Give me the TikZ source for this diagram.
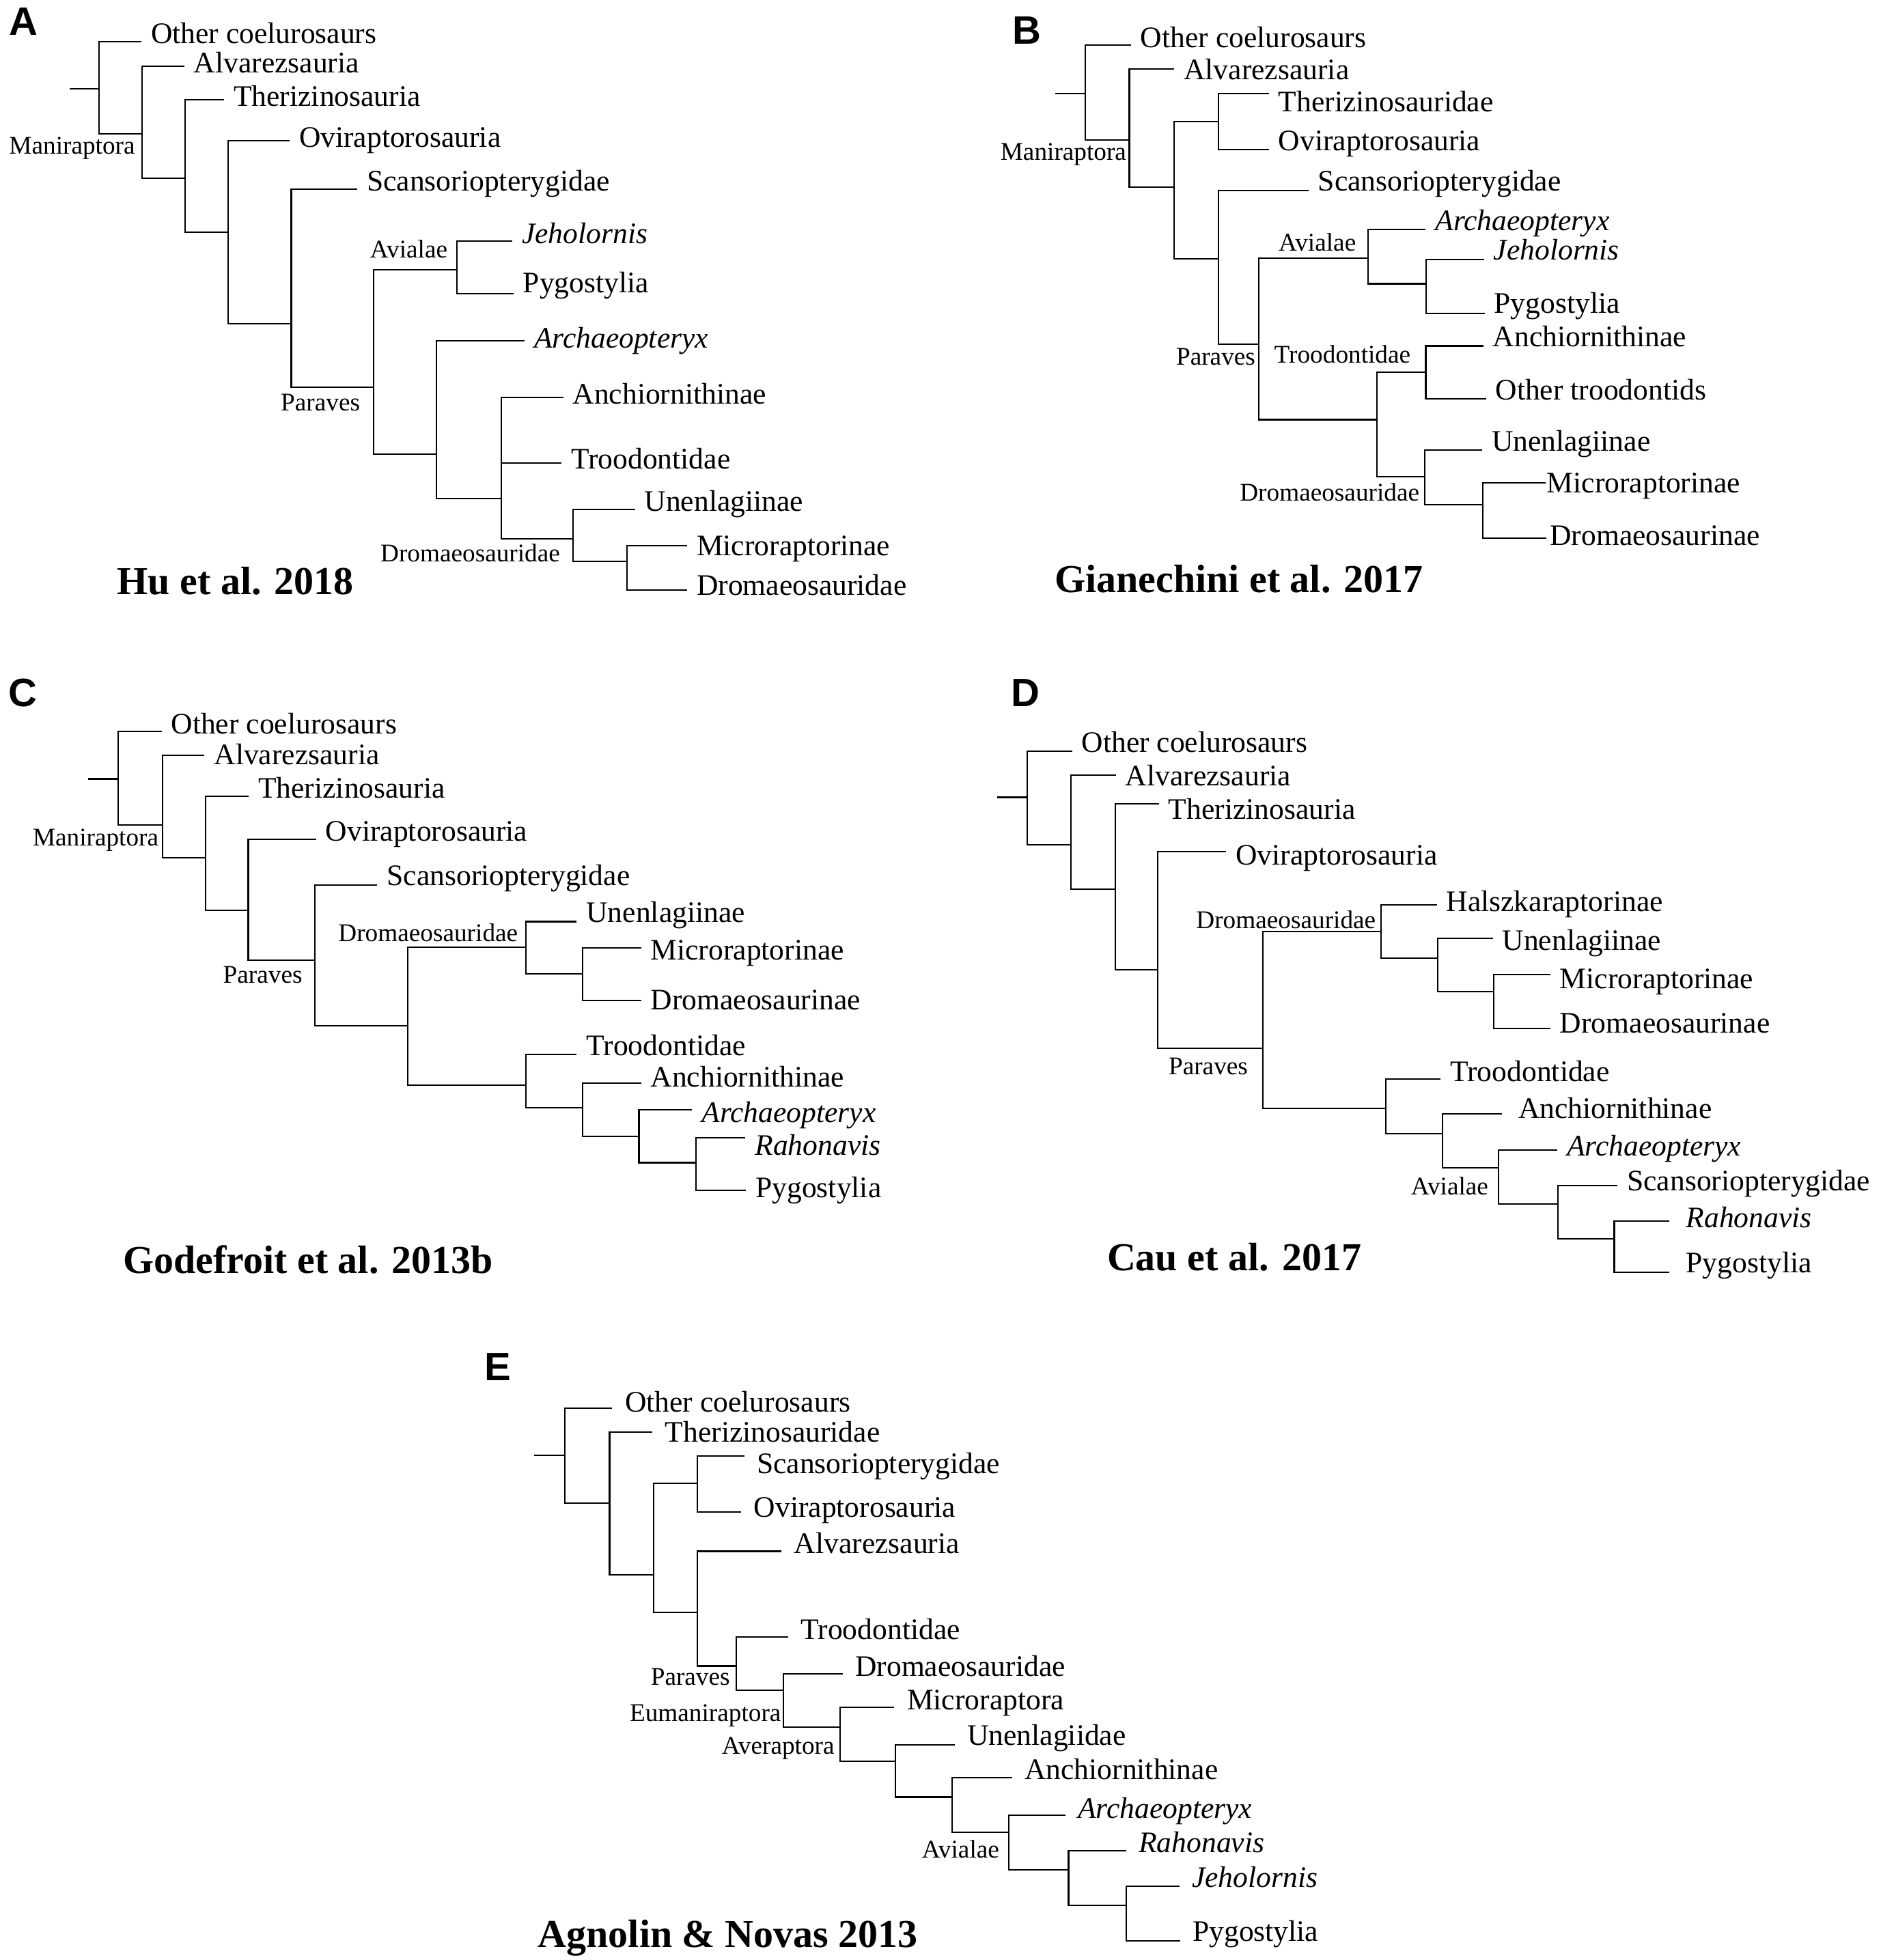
\documentclass[tikz,border=0pt]{standalone}
\usepackage{fontspec}
\setmainfont{Liberation Serif}
\newfontfamily\panelfont{Liberation Sans}
\newcommand{\taxsize}{\fontsize{12.4pt}{14pt}\selectfont}
\newcommand{\cladesize}{\fontsize{10.6pt}{12pt}\selectfont}
\newcommand{\refsize}{\fontsize{16.5pt}{19pt}\selectfont\bfseries}
\newcommand{\splitnode}[4]{%
  \coordinate (#1t) at (#2,#3);
  \coordinate (#1b) at (#2,#4);
  \draw (#1t) -- (#1b);}

\begin{document}
\begin{tikzpicture}[x=0.01836cm, y=-0.01836cm, line width=0.6pt, line cap=rect,
  taxon/.style={anchor=west, inner sep=0pt, text height=8.2pt, text depth=0pt, font=\taxsize},
  clade/.style={inner sep=0pt, text height=7pt, text depth=0pt, font=\cladesize},
  study/.style={inner sep=0pt, text height=10.9pt, text depth=0pt, font=\refsize},
  panel/.style={inner sep=0pt, text height=11.8pt, text depth=0pt, font=\panelfont\bfseries\fontsize{16.5pt}{19pt}\selectfont},
  twig/.style={shorten >=4pt}]
  \useasboundingbox (0,0) rectangle (1500,1563.2);

  % A
  \node[panel] (aP) at (18.5,17) {A};
  \coordinate (a0) at (56.2,70.7);
  \splitnode{a1}{79.2}{33}{106.8}
  \splitnode{a2}{113.4}{52.8}{142}
  \splitnode{a3}{147.7}{79.5}{185.4}
  \splitnode{a4}{181.9}{112.2}{258.3}
  \splitnode{a5}{232.3}{150.8}{308.9}
  \splitnode{a6}{297.8}{215.3}{362}
  \splitnode{a7}{364.3}{192.3}{234.1}
  \splitnode{a8}{348.2}{271.8}{397.5}
  \splitnode{a9}{400}{316.8}{429.9}
  \coordinate (a9m) at (400,369.3);
  \splitnode{a10}{457.2}{406.3}{447.8}
  \splitnode{a11}{499.8}{435.3}{470.8}
  \node[taxon] (aOC) at (119.8,26.7) {Other coelurosaurs};
  \node[taxon] (aAlv) at (154,50.3) {Alvarezsauria};
  \node[taxon] (aThe) at (185.8,77) {Therizinosauria};
  \node[taxon] (aOvi) at (238,109.4) {Oviraptorosauria};
  \node[taxon] (aSca) at (292,144.6) {Scansoriopterygidae};
  \node[taxon] (aJeh) at (415.6,186.4) {\itshape Jeholornis};
  \node[taxon] (aPyg) at (416.6,225.6) {Pygostylia};
  \node[taxon] (aArc) at (425.4,269.6) {\itshape Archaeopteryx};
  \node[taxon] (aAnc) at (456.2,314.3) {Anchiornithinae};
  \node[taxon] (aTro) at (454.8,366.1) {Troodontidae};
  \node[taxon] (aUne) at (513.4,399.7) {Unenlagiinae};
  \node[taxon] (aMic) at (555,435.3) {Microraptorinae};
  \node[taxon] (aDro) at (555,466.7) {Dromaeosauridae};
  \node[clade] (aMan) at (57.5,116.3) {Maniraptora};
  \node[clade] (aAvi) at (326,199) {Avialae};
  \node[clade] (aPar) at (255.5,321) {Paraves};
  \node[clade] (aDrc) at (375,441.5) {Dromaeosauridae};
  \node[study] (aRef) at (187.8,463.5) {Hu et al. 2018};
  \draw (a0) -- (a1t |- a0);
  \draw[twig] (a1t) -- (aOC.west |- a1t);
  \draw (a1b) -- (a2t |- a1b);
  \draw[twig] (a2t) -- (aAlv.west |- a2t);
  \draw (a2b) -- (a3t |- a2b);
  \draw[twig] (a3t) -- (aThe.west |- a3t);
  \draw (a3b) -- (a4t |- a3b);
  \draw[twig] (a4t) -- (aOvi.west |- a4t);
  \draw (a4b) -- (a5t |- a4b);
  \draw[twig] (a5t) -- (aSca.west |- a5t);
  \draw (a5b) -- (a6t |- a5b);
  \draw (a6t) -- (a7t |- a6t);
  \draw[twig] (a7t) -- (aJeh.west |- a7t);
  \draw[twig] (a7b) -- (aPyg.west |- a7b);
  \draw (a6b) -- (a8t |- a6b);
  \draw[twig] (a8t) -- (aArc.west |- a8t);
  \draw (a8b) -- (a9t |- a8b);
  \draw[twig] (a9t) -- (aAnc.west |- a9t);
  \draw[twig] (a9m) -- (aTro.west |- a9m);
  \draw (a9b) -- (a10t |- a9b);
  \draw[twig] (a10t) -- (aUne.west |- a10t);
  \draw (a10b) -- (a11t |- a10b);
  \draw[twig] (a11t) -- (aMic.west |- a11t);
  \draw[twig] (a11b) -- (aDro.west |- a11b);

  % B
  \node[panel] (bP) at (819,24) {B};
  \coordinate (b0) at (841.9,74.5);
  \splitnode{b1}{865.6}{36.1}{111.6}
  \splitnode{b2}{900.6}{55}{149.3}
  \splitnode{b3}{936.5}{96.8}{206.5}
  \splitnode{b4}{971.5}{74.5}{119.4}
  \splitnode{b5}{971.5}{151.8}{274.4}
  \splitnode{b6}{1003.6}{205.8}{334.7}
  \splitnode{b7}{1091.1}{182.9}{226.3}
  \splitnode{b8}{1137.4}{206.8}{249.8}
  \splitnode{b9}{1098.2}{297}{380.3}
  \splitnode{b10}{1137}{275.9}{318}
  \splitnode{b11}{1136}{358.9}{402.3}
  \splitnode{b12}{1182.4}{385}{429}
  \node[taxon] (bOC) at (909,29.9) {Other coelurosaurs};
  \node[taxon] (bAlv) at (943.5,55.6) {Alvarezsauria};
  \node[taxon] (bThe) at (1019,81.1) {Therizinosauridae};
  \node[taxon] (bOvi) at (1019,112.2) {Oviraptorosauria};
  \node[taxon] (bSca) at (1050.5,144.6) {Scansoriopterygidae};
  \node[taxon] (bArc) at (1144,176) {\itshape Archaeopteryx};
  \node[taxon] (bJeh) at (1190.5,199.6) {\itshape Jeholornis};
  \node[taxon] (bPyg) at (1191,242) {Pygostylia};
  \node[taxon] (bAnc) at (1190,268.7) {Anchiornithinae};
  \node[taxon] (bOtr) at (1192,311) {Other troodontids};
  \node[taxon] (bUne) at (1189,352) {Unenlagiinae};
  \node[taxon] (bMic) at (1233,385) {Microraptorinae};
  \node[taxon] (bDro) at (1235.5,426.8) {Dromaeosaurinae};
  \node[clade] (bMan) at (848,121) {Maniraptora};
  \node[clade] (bAvi) at (1050.5,193.3) {Avialae};
  \node[clade] (bPar) at (969.5,284.4) {Paraves};
  \node[clade] (bTrc) at (1070.5,282.8) {Troodontidae};
  \node[clade] (bDrc) at (1060.3,392.8) {Dromaeosauridae};
  \node[study] (bRef) at (988,462) {Gianechini et al. 2017};
  \draw (b0) -- (b1t |- b0);
  \draw[twig] (b1t) -- (bOC.west |- b1t);
  \draw (b1b) -- (b2t |- b1b);
  \draw[twig] (b2t) -- (bAlv.west |- b2t);
  \draw (b2b) -- (b3t |- b2b);
  \draw (b3t) -- (b4t |- b3t);
  \draw[twig] (b4t) -- (bThe.west |- b4t);
  \draw[twig] (b4b) -- (bOvi.west |- b4b);
  \draw (b3b) -- (b5t |- b3b);
  \draw[twig] (b5t) -- (bSca.west |- b5t);
  \draw (b5b) -- (b6t |- b5b);
  \draw (b6t) -- (b7t |- b6t);
  \draw[twig] (b7t) -- (bArc.west |- b7t);
  \draw (b7b) -- (b8t |- b7b);
  \draw[twig] (b8t) -- (bJeh.west |- b8t);
  \draw[twig] (b8b) -- (bPyg.west |- b8b);
  \draw (b6b) -- (b9t |- b6b);
  \draw (b9t) -- (b10t |- b9t);
  \draw[twig] (b10t) -- (bAnc.west |- b10t);
  \draw[twig] (b10b) -- (bOtr.west |- b10b);
  \draw (b9b) -- (b11t |- b9b);
  \draw[twig] (b11t) -- (bUne.west |- b11t);
  \draw (b11b) -- (b12t |- b11b);
  \draw[twig, shorten >=0.5pt] (b12t) -- (bMic.west |- b12t);
  \draw[twig, shorten >=1.5pt] (b12b) -- (bDro.west |- b12b);

  % C
  \node[panel] (cP) at (18.3,552) {C};
  \coordinate (c0) at (70.9,621.2);
  \splitnode{c1}{94.4}{583.5}{658}
  \splitnode{c2}{129.6}{602.3}{684}
  \splitnode{c3}{163.8}{635}{726.1}
  \splitnode{c4}{198}{669.6}{765.7}
  \splitnode{c5}{250.9}{705.7}{818.2}
  \splitnode{c6}{325.2}{755.4}{865.4}
  \splitnode{c7}{419.6}{735}{776.7}
  \splitnode{c8}{464.5}{756}{797.8}
  \splitnode{c9}{419.6}{841.2}{883.3}
  \splitnode{c10}{464.5}{863.8}{906.2}
  \splitnode{c11}{509.5}{885.2}{927.3}
  \splitnode{c12}{555}{907.2}{949.3}
  \node[taxon] (cOC) at (135.9,577.5) {Other coelurosaurs};
  \node[taxon] (cAlv) at (170.2,601.8) {Alvarezsauria};
  \node[taxon] (cThe) at (205.4,628.5) {Therizinosauria};
  \node[taxon] (cOvi) at (259.2,663) {Oviraptorosauria};
  \node[taxon] (cSca) at (308,698.3) {Scansoriopterygidae};
  \node[taxon] (cUne) at (467,727.5) {Unenlagiinae};
  \node[taxon] (cMic) at (518.3,757.8) {Microraptorinae};
  \node[taxon] (cDrn) at (518.3,797.2) {Dromaeosaurinae};
  \node[taxon] (cTro) at (467,834) {Troodontidae};
  \node[taxon] (cAnc) at (518.3,859.1) {Anchiornithinae};
  \node[taxon] (cArc) at (559,887.4) {\itshape Archaeopteryx};
  \node[taxon] (cRah) at (601.5,913.6) {\itshape Rahonavis};
  \node[taxon] (cPyg) at (602,947) {Pygostylia};
  \node[clade] (cMan) at (76.3,667.6) {Maniraptora};
  \node[clade] (cDrc) at (341.4,744.2) {Dromaeosauridae};
  \node[clade] (cPar) at (209.5,777.6) {Paraves};
  \node[study] (cRef) at (245.8,1005) {Godefroit et al. 2013b};
  \draw (c0) -- (c1t |- c0);
  \draw[twig] (c1t) -- (cOC.west |- c1t);
  \draw (c1b) -- (c2t |- c1b);
  \draw[twig] (c2t) -- (cAlv.west |- c2t);
  \draw (c2b) -- (c3t |- c2b);
  \draw[twig] (c3t) -- (cThe.west |- c3t);
  \draw (c3b) -- (c4t |- c3b);
  \draw[twig] (c4t) -- (cOvi.west |- c4t);
  \draw (c4b) -- (c5t |- c4b);
  \draw[twig] (c5t) -- (cSca.west |- c5t);
  \draw (c5b) -- (c6t |- c5b);
  \draw (c6t) -- (c7t |- c6t);
  \draw[twig] (c7t) -- (cUne.west |- c7t);
  \draw (c7b) -- (c8t |- c7b);
  \draw[twig] (c8t) -- (cMic.west |- c8t);
  \draw[twig] (c8b) -- (cDrn.west |- c8b);
  \draw (c6b) -- (c9t |- c6b);
  \draw[twig] (c9t) -- (cTro.west |- c9t);
  \draw (c9b) -- (c10t |- c9b);
  \draw[twig] (c10t) -- (cAnc.west |- c10t);
  \draw (c10b) -- (c11t |- c10b);
  \draw[twig] (c11t) -- (cArc.west |- c11t);
  \draw (c11b) -- (c12t |- c11b);
  \draw[twig] (c12t) -- (cRah.west |- c12t);
  \draw[twig] (c12b) -- (cPyg.west |- c12b);

  % D
  \node[panel] (dP) at (818,552) {D};
  \coordinate (d0) at (795.6,635.9);
  \splitnode{d1}{819.2}{599.2}{673.6}
  \splitnode{d2}{853.8}{618}{709.2}
  \splitnode{d3}{889.2}{641.3}{773.6}
  \splitnode{d4}{923.3}{679.3}{836.1}
  \splitnode{d5}{1007}{742.8}{884.2}
  \splitnode{d6}{1101.5}{721.7}{764.2}
  \splitnode{d7}{1146.4}{748.4}{790.9}
  \splitnode{d8}{1191.3}{777.4}{820.4}
  \splitnode{d9}{1105.3}{860.6}{904}
  \splitnode{d10}{1150.2}{888.3}{931.3}
  \splitnode{d11}{1195.1}{917.2}{960.3}
  \splitnode{d12}{1242.4}{945.5}{987.9}
  \splitnode{d13}{1287.3}{973.8}{1014.6}
  \node[taxon] (dOC) at (862,592.3) {Other coelurosaurs};
  \node[taxon] (dAlv) at (897,618.8) {Alvarezsauria};
  \node[taxon] (dThe) at (931.3,645.6) {Therizinosauria};
  \node[taxon] (dOvi) at (984.8,681.7) {Oviraptorosauria};
  \node[taxon] (dHal) at (1152.8,718.8) {Halszkaraptorinae};
  \node[taxon] (dUne) at (1197.5,750) {Unenlagiinae};
  \node[taxon] (dMic) at (1243.4,780.7) {Microraptorinae};
  \node[taxon] (dDrn) at (1243.4,816) {Dromaeosaurinae};
  \node[taxon] (dTro) at (1155.9,854.6) {Troodontidae};
  \node[taxon] (dAnc) at (1210.3,884.2) {Anchiornithinae};
  \node[taxon] (dArc) at (1249,914) {\itshape Archaeopteryx};
  \node[taxon] (dSca) at (1297,941.8) {Scansoriopterygidae};
  \node[taxon] (dRah) at (1344,971.3) {\itshape Rahonavis};
  \node[taxon] (dPyg) at (1344,1006.9) {Pygostylia};
  \node[clade] (dDrc) at (1025.5,733.6) {Dromaeosauridae};
  \node[clade] (dPar) at (963.5,850.3) {Paraves};
  \node[clade] (dAvi) at (1156,946.2) {Avialae};
  \node[study] (dRef) at (984.3,1003) {Cau et al. 2017};
  \draw (d0) -- (d1t |- d0);
  \draw[twig] (d1t) -- (dOC.west |- d1t);
  \draw (d1b) -- (d2t |- d1b);
  \draw[twig] (d2t) -- (dAlv.west |- d2t);
  \draw (d2b) -- (d3t |- d2b);
  \draw[twig] (d3t) -- (dThe.west |- d3t);
  \draw (d3b) -- (d4t |- d3b);
  \draw[twig] (d4t) -- (dOvi.west |- d4t);
  \draw (d4b) -- (d5t |- d4b);
  \draw (d5t) -- (d6t |- d5t);
  \draw[twig] (d6t) -- (dHal.west |- d6t);
  \draw (d6b) -- (d7t |- d6b);
  \draw[twig] (d7t) -- (dUne.west |- d7t);
  \draw (d7b) -- (d8t |- d7b);
  \draw[twig] (d8t) -- (dMic.west |- d8t);
  \draw[twig] (d8b) -- (dDrn.west |- d8b);
  \draw (d5b) -- (d9t |- d5b);
  \draw[twig] (d9t) -- (dTro.west |- d9t);
  \draw (d9b) -- (d10t |- d9b);
  \draw[twig, shorten >=7pt] (d10t) -- (dAnc.west |- d10t);
  \draw (d10b) -- (d11t |- d10b);
  \draw[twig] (d11t) -- (dArc.west |- d11t);
  \draw (d11b) -- (d12t |- d11b);
  \draw[twig] (d12t) -- (dSca.west |- d12t);
  \draw (d12b) -- (d13t |- d12b);
  \draw[twig, shorten >=7pt] (d13t) -- (dRah.west |- d13t);
  \draw[twig, shorten >=7pt] (d13b) -- (dPyg.west |- d13b);

  % E
  \begin{scope}[twig/.style={shorten >=5.3pt}]
  \node[panel] (eP) at (397,1090) {E};
  \coordinate (e0) at (426.7,1160.7);
  \splitnode{e1}{450.4}{1123.1}{1198.6}
  \splitnode{e2}{486.1}{1142.4}{1255.8}
  \splitnode{e3}{521}{1183.2}{1286}
  \splitnode{e4}{555.9}{1161}{1206}
  \splitnode{e5}{555.9}{1237.2}{1328.7}
  \splitnode{e6}{587.3}{1305.6}{1348}
  \splitnode{e7}{624.7}{1335.1}{1377.6}
  \splitnode{e8}{669.7}{1361.5}{1404.9}
  \splitnode{e9}{714.1}{1391.4}{1433.3}
  \splitnode{e10}{759.1}{1417.8}{1461.3}
  \splitnode{e11}{804.5}{1447.7}{1491.1}
  \splitnode{e12}{852.1}{1476}{1519.8}
  \splitnode{e13}{898.3}{1504.5}{1548}
  \node[taxon] (eOC) at (497.8,1118.5) {Other coelurosaurs};
  \node[taxon] (eThe) at (529.8,1142) {Therizinosauridae};
  \node[taxon] (eSca) at (603,1167.5) {Scansoriopterygidae};
  \node[taxon] (eOvi) at (600.6,1202) {Oviraptorosauria};
  \node[taxon] (eAlv) at (632.8,1231) {Alvarezsauria};
  \node[taxon] (eTro) at (638,1299.5) {Troodontidae};
  \node[taxon] (eDro) at (681.5,1329) {Dromaeosauridae};
  \node[taxon] (eMic) at (722.8,1355.5) {Microraptora};
  \node[taxon] (eUnl) at (770.8,1384) {Unenlagiidae};
  \node[taxon] (eAnc) at (816.5,1411) {Anchiornithinae};
  \node[taxon] (eArc) at (859,1442.5) {\itshape Archaeopteryx};
  \node[taxon] (eRah) at (907.5,1469.5) {\itshape Rahonavis};
  \node[taxon] (eJeh) at (950,1497.5) {\itshape Jeholornis};
  \node[taxon] (ePyg) at (950.5,1540.5) {Pygostylia};
  \node[clade] (ePar) at (550.5,1337) {Paraves};
  \node[clade] (eEum) at (562.5,1366) {Eumaniraptora};
  \node[clade] (eAve) at (620.5,1392.5) {Averaptora};
  \node[clade] (eAvi) at (766,1475) {Avialae};
  \node[study] (eRef) at (580.5,1542.5) {Agnolin \& Novas 2013};
  \draw (e0) -- (e1t |- e0);
  \draw[twig] (e1t) -- (eOC.west |- e1t);
  \draw (e1b) -- (e2t |- e1b);
  \draw[twig] (e2t) -- (eThe.west |- e2t);
  \draw (e2b) -- (e3t |- e2b);
  \draw (e3t) -- (e4t |- e3t);
  \draw[twig] (e4t) -- (eSca.west |- e4t);
  \draw[twig] (e4b) -- (eOvi.west |- e4b);
  \draw (e3b) -- (e5t |- e3b);
  \draw[twig] (e5t) -- (eAlv.west |- e5t);
  \draw (e5b) -- (e6t |- e5b);
  \draw[twig] (e6t) -- (eTro.west |- e6t);
  \draw (e6b) -- (e7t |- e6b);
  \draw[twig] (e7t) -- (eDro.west |- e7t);
  \draw (e7b) -- (e8t |- e7b);
  \draw[twig] (e8t) -- (eMic.west |- e8t);
  \draw (e8b) -- (e9t |- e8b);
  \draw[twig] (e9t) -- (eUnl.west |- e9t);
  \draw (e9b) -- (e10t |- e9b);
  \draw[twig] (e10t) -- (eAnc.west |- e10t);
  \draw (e10b) -- (e11t |- e10b);
  \draw[twig] (e11t) -- (eArc.west |- e11t);
  \draw (e11b) -- (e12t |- e11b);
  \draw[twig] (e12t) -- (eRah.west |- e12t);
  \draw (e12b) -- (e13t |- e12b);
  \draw[twig] (e13t) -- (eJeh.west |- e13t);
  \draw[twig] (e13b) -- (ePyg.west |- e13b);
  \end{scope}
\end{tikzpicture}
\end{document}
